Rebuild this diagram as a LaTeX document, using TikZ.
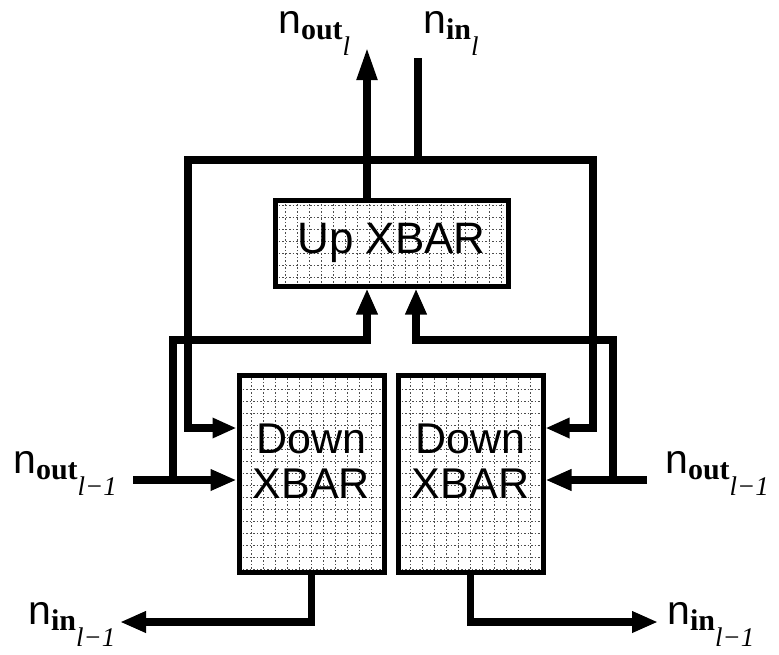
\documentclass[tikz,border=0pt]{standalone}
\usepackage{fontspec}
\setmainfont{Liberation Sans}
\newfontfamily\serifb{Liberation Serif}
\usetikzlibrary{arrows.meta}
\newcommand\nlab[2]{{\fontsize{41}{41}\selectfont n}\raisebox{-6pt}{\fontsize{30}{30}\serifb\bfseries #1\raisebox{-16pt}{\fontsize{27}{27}\mdseries\itshape #2}}}
\tikzset{
  xbar/.style={draw, line width=5pt, fill=white, inner sep=0pt,
    path picture={\draw[black!70, line width=1pt, dash pattern=on 1.5pt off 2pt, step=12pt]
      (path picture bounding box.south west) grid (path picture bounding box.north east);}},
  wire/.style={line width=7.5pt},
  tip/.style={-{Triangle[length=26pt,width=20pt]}},
  tiplong/.style={-{Triangle[length=33pt,width=19pt]}},
  tipboth/.style={{Triangle[length=24pt,width=19pt]}-{Triangle[length=24pt,width=19pt]}},
  lbl/.style={anchor=base west, inner sep=0pt},
  boxtext/.style={font=\fontsize{43}{45}\selectfont, align=center, inner sep=0pt}
}
\begin{document}
\begin{tikzpicture}[x=1pt,y=-1pt]
\useasboundingbox (0,0) rectangle (779,654);
% boxes
\node[xbar, minimum width=233pt, minimum height=86pt, font=\fontsize{44}{44}\selectfont] (up) at (391.5,243) {Up XBAR};
\node[xbar, minimum width=145pt, minimum height=197pt] (downL) at (311.5,473.5) {};
\node[xbar, minimum width=145pt, minimum height=197pt] (downR) at (470.5,473.5) {};
\node[boxtext] (downLtext) at (311.5,461) {Down\\XBAR};
\node[boxtext] (downRtext) at (470.5,461) {Down\\XBAR};
% coordinates
\coordinate (outTop) at (367,47);
\coordinate (inTop) at (418,58);
\coordinate (busL) at (188,160);
\coordinate (busR) at (593,160);
\coordinate (fbL) at (188,428);
\coordinate (fbR) at (593,428);
\coordinate (nOutLend) at (133,480);
\coordinate (jL) at (173,480);
\coordinate (cL) at (173,340);
\coordinate (upInL) at (367,340);
\coordinate (nOutRend) at (647,480);
\coordinate (jR) at (613,480);
\coordinate (cR) at (613,340);
\coordinate (upInR) at (416,340);
\coordinate (inBL) at (120,622);
\coordinate (inBR) at (658,622);
% wires
\draw[wire,tiplong] (outTop |- up.north) -- (outTop);
\draw[wire] (inTop) -- (inTop |- busL);
\draw[wire,tipboth] (fbL -| downL.west) -- (fbL) -- (busL) -- (busR) -- (fbR) -- (fbR -| downR.east);
\draw[wire,tip] (nOutLend) -- (nOutLend -| downL.west);
\draw[wire,tip] (jL) -- (cL) -- (upInL) -- (upInL |- up.south);
\draw[wire,tip] (nOutRend) -- (nOutRend -| downR.east);
\draw[wire,tip] (jR) -- (cR) -- (upInR) -- (upInR |- up.south);
\draw[wire,tip] (downL.south) -- (downL.south |- inBL) -- (inBL);
\draw[wire,tip] (downR.south) -- (downR.south |- inBR) -- (inBR);
% labels
\node[lbl] (lOutTop) at (278,33) {\nlab{out}{l}};
\node[lbl] (lInTop) at (423,33) {\nlab{in}{l}};
\node[lbl] (lOutL) at (13,473) {\nlab{out}{l−1}};
\node[lbl] (lOutR) at (665,473) {\nlab{out}{l−1}};
\node[lbl] (lInBL) at (28,624) {\nlab{in}{l−1}};
\node[lbl] (lInBR) at (667,624) {\nlab{in}{l−1}};
\end{tikzpicture}
\end{document}
